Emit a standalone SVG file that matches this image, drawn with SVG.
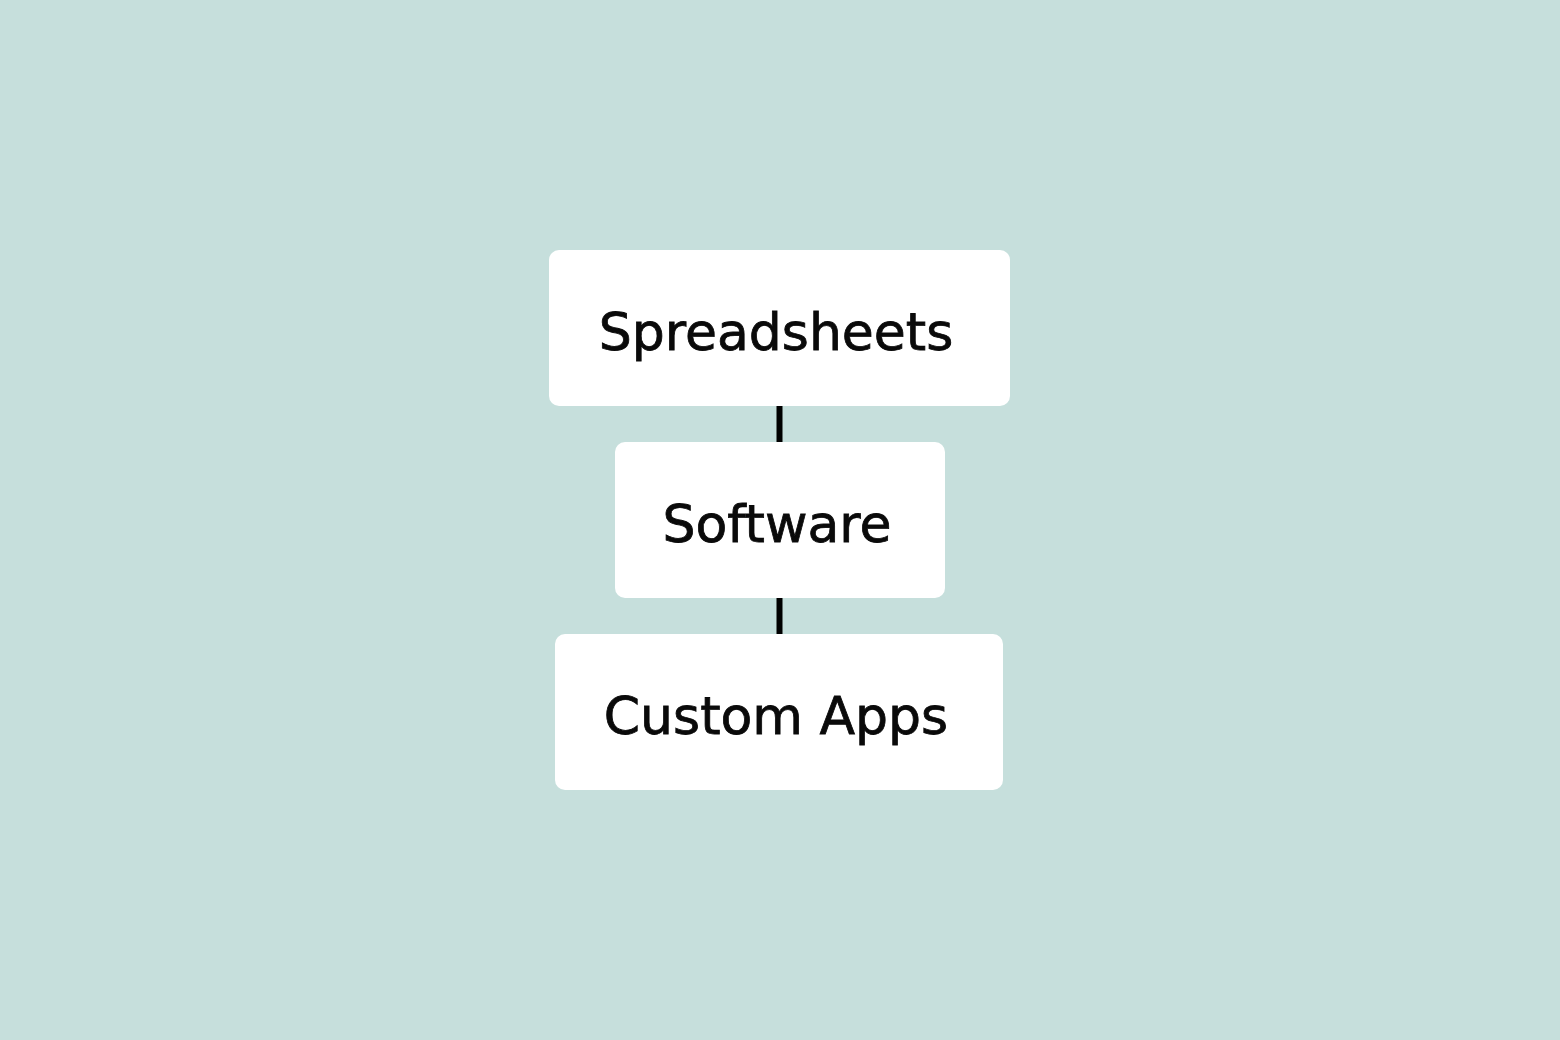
<svg xmlns="http://www.w3.org/2000/svg" width="1560" height="1040" viewBox="0 0 1560 1040">
<style>
.box{fill:#ffffff}
.lbl{font-family:"DejaVu Sans",sans-serif;font-size:52px;fill:#0a0a0a;stroke:#0a0a0a;stroke-width:0.8;text-anchor:middle}
.conn{stroke:#000000;stroke-width:6;fill:none}
</style>
<rect width="1560" height="1040" fill="#c6dfdc"/>
<g id="connectors">
<line class="conn" x1="779.5" y1="406" x2="779.5" y2="442"/>
<line class="conn" x1="779.5" y1="598" x2="779.5" y2="634"/>
</g>
<g id="spreadsheets">
<rect class="box" x="549" y="250" width="461" height="156" rx="10"/>
<text class="lbl" x="776" y="350">Spreadsheets</text>
</g>
<g id="software">
<rect class="box" x="615" y="442" width="330" height="156" rx="10"/>
<text class="lbl" x="777" y="542">Software</text>
</g>
<g id="custom-apps">
<rect class="box" x="555" y="634" width="448" height="156" rx="10"/>
<text class="lbl" x="776" y="734">Custom Apps</text>
</g>
</svg>
